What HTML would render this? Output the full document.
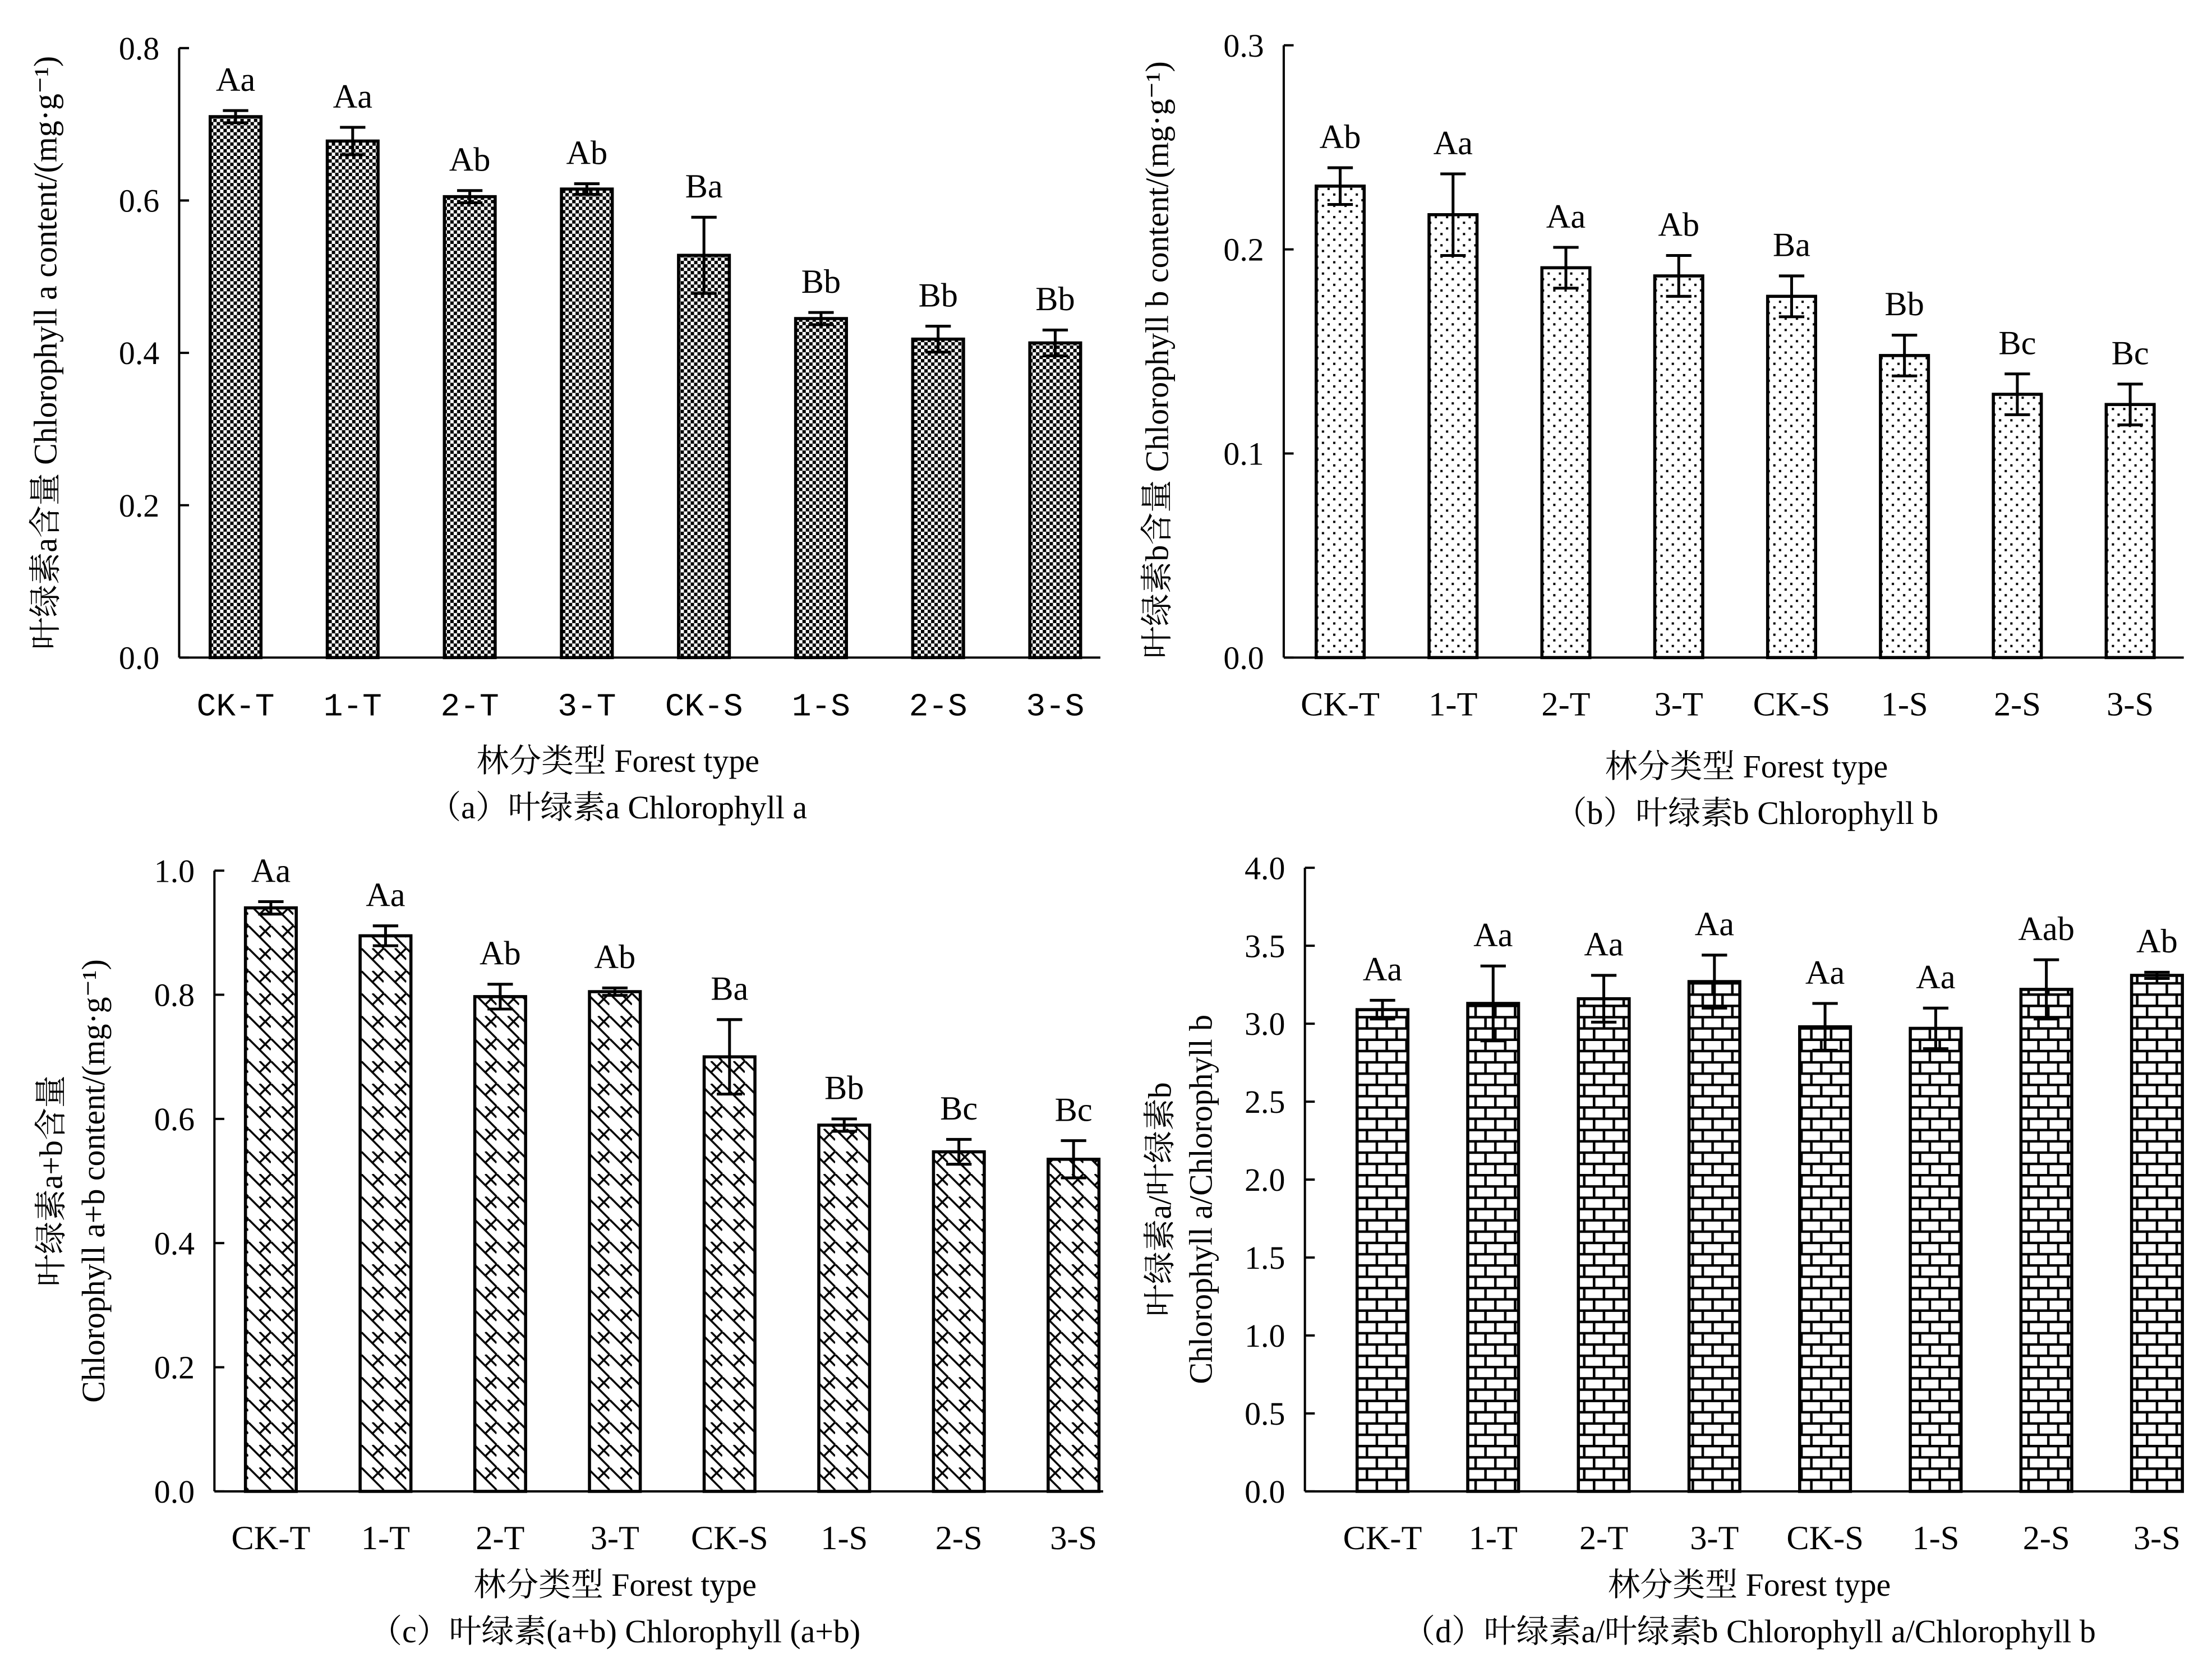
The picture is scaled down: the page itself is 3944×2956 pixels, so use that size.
<!DOCTYPE html>
<html><head><meta charset="utf-8"><style>
html,body{margin:0;padding:0;background:#fff}
svg{display:block}
</style></head><body>
<svg id="fig" width="3944" height="2956" viewBox="0 0 1568 1175" xmlns="http://www.w3.org/2000/svg">
<defs>
<pattern id="pChecker" width="4.8" height="4.8" patternUnits="userSpaceOnUse">
<rect width="4.8" height="4.8" fill="#fff"/><rect width="2.4" height="2.4" fill="#000"/><rect x="2.4" y="2.4" width="2.4" height="2.4" fill="#000"/>
</pattern>
<pattern id="pDots" width="8" height="8" patternUnits="userSpaceOnUse">
<rect width="8" height="8" fill="#fff"/><rect x="1" y="1" width="1.6" height="1.6" fill="#000"/><rect x="5" y="5" width="1.6" height="1.6" fill="#000"/>
</pattern>
<pattern id="pCross" width="16" height="16" patternUnits="userSpaceOnUse">
<rect width="16" height="16" fill="#fff"/>
<path d="M0,0 L16,16 M-8,8 L0,16 M8,0 L16,8 M16,0 L8,8" stroke="#000" stroke-width="1.4"/>
</pattern>
<pattern id="pBrick" width="14" height="16" patternUnits="userSpaceOnUse">
<rect width="14" height="16" fill="#fff"/>
<path d="M0,0.9 H14 M0,8.9 H14 M3,1 V9 M10,9 V17" stroke="#000" stroke-width="1.8"/>
</pattern>
</defs>
<g id="root"></g>
</svg>
<script>
const catsA = ["CK-T","1-T","2-T","3-T","CK-S","1-S","2-S","3-S"];
const valsA = [0.71,0.678,0.605,0.615,0.528,0.445,0.418,0.413];
const errA = [0.008,0.018,0.008,0.007,0.05,0.008,0.017,0.017];
const sigA = ["Aa","Aa","Ab","Ab","Ba","Bb","Bb","Bb"];
const ticksA = ["0.0","0.2","0.4","0.6","0.8"];
const valsB = [0.231,0.217,0.191,0.187,0.177,0.148,0.129,0.124];
const errB = [0.009,0.02,0.01,0.01,0.01,0.01,0.01,0.01];
const sigB = ["Ab","Aa","Aa","Ab","Ba","Bb","Bc","Bc"];
const ticksB = ["0.0","0.1","0.2","0.3"];
const valsC = [0.94,0.895,0.797,0.805,0.70,0.59,0.547,0.535];
const errC = [0.01,0.016,0.02,0.006,0.06,0.01,0.02,0.03];
const sigC = ["Aa","Aa","Ab","Ab","Ba","Bb","Bc","Bc"];
const ticksC = ["0.0","0.2","0.4","0.6","0.8","1.0"];
const valsD = [3.09,3.13,3.16,3.27,2.98,2.97,3.22,3.31];
const errD = [0.06,0.24,0.15,0.17,0.15,0.13,0.19,0.02];
const sigD = ["Aa","Aa","Aa","Aa","Aa","Aa","Aab","Ab"];
const ticksD = ["0.0","0.5","1.0","1.5","2.0","2.5","3.0","3.5","4.0"];

const NS="http://www.w3.org/2000/svg";
const root=document.getElementById('root');
const SERIF='font-family:"Liberation Serif","Noto Serif CJK SC",serif;';
const MONO='font-family:"Liberation Mono","DejaVu Sans Mono",monospace;';
function mk(tag,attrs,parent,txt){const e=document.createElementNS(NS,tag);for(const k in attrs)e.setAttribute(k,attrs[k]);if(txt!==undefined)e.textContent=txt;(parent||root).appendChild(e);return e;}

function panel(cfg){
  const g=mk('g',{});
  
  
  const maxV=parseFloat(cfg.ticks[cfg.ticks.length-1]);
  const y=v=>cfg.y0-(v/maxV)*(cfg.y0-cfg.y1);
  const step=(cfg.lastX-cfg.firstX)/(cfg.cats.length-1);
  const x=i=>cfg.firstX+step*i;
  const ya=mk('line',{x1:cfg.x0,y1:cfg.y1,x2:cfg.x0,y2:cfg.y0,stroke:'#000','stroke-width':1.6},g);
  
  
  const xa=mk('line',{x1:cfg.x0,y1:cfg.y0,x2:cfg.xEnd,y2:cfg.y0,stroke:'#000','stroke-width':1.6},g);
  
  
  cfg.ticks.forEach(t=>{
    const v=parseFloat(t);
    mk('line',{x1:cfg.x0,y1:y(v),x2:cfg.x0+7,y2:y(v),stroke:'#000','stroke-width':1.6},g);
    const tl=mk('text',{x:cfg.x0-14,y:y(v)+8,'text-anchor':'end',style:SERIF+'font-size:23px'},g,t);
    
    
  });
  cfg.cats.forEach((c,i)=>{
    const bw=cfg.bw, v=cfg.vals[i], e=cfg.err[i];
    const b=mk('rect',{x:x(i)-bw/2,y:y(v),width:bw,height:cfg.y0-y(v),fill:'url(#'+cfg.pat+')',stroke:'#000','stroke-width':2.2},g);
    
    
    const eb=mk('path',{d:`M${x(i)},${y(v+e)}V${y(v-e)}M${x(i)-9},${y(v+e)}H${x(i)+9}M${x(i)-9},${y(v-e)}H${x(i)+9}`,stroke:'#000','stroke-width':2,fill:'none'},g);
    
    
    const s=mk('text',{x:x(i),y:y(v+e)-14,'text-anchor':'middle',style:SERIF+'font-size:24px'},g,cfg.sig[i]);
    
    
    const xl=mk('text',{x:x(i),y:cfg.y0+41,'text-anchor':'middle',style:(cfg.mono?MONO+'font-size:23px':SERIF+'font-size:24px')},g,c);
    
    
  });
  const xt=mk('text',{x:cfg.titleX,y:cfg.titleY,'text-anchor':'middle',style:SERIF+'font-size:23px'},g,'林分类型 Forest type');
  
  
  const cap=mk('text',{x:cfg.titleX,y:cfg.titleY+33,'text-anchor':'middle',style:SERIF+'font-size:23px'},g,cfg.caption);
  
  
  cfg.ylab.forEach(l=>{
    const yy=l[2];
    const t=mk('text',{x:l[0],y:yy,'text-anchor':'middle',transform:`rotate(-90 ${l[0]} ${yy})`,style:SERIF+'font-size:23px'},g,l[1]);
    
    
  });
}
panel({name:'panel-a',cats:catsA,vals:valsA,err:errA,sig:sigA,ticks:ticksA,x0:127,xEnd:780,firstX:167,lastX:748,y0:466,y1:34,bw:36,pat:'pChecker',mono:true,titleX:438,titleY:547,caption:'（a）叶绿素a Chlorophyll a',ylab:[[40,'叶绿素a含量 Chlorophyll a content/(mg·g⁻¹)',250]]});
panel({name:'panel-b',cats:catsA,vals:valsB,err:errB,sig:sigB,ticks:ticksB,x0:910,xEnd:1548,firstX:950,lastX:1510,y0:466,y1:32,bw:34,pat:'pDots',mono:false,titleX:1238,titleY:551,caption:'（b）叶绿素b Chlorophyll b',ylab:[[828,'叶绿素b含量 Chlorophyll b content/(mg·g⁻¹)',255]]});
panel({name:'panel-c',cats:catsA,vals:valsC,err:errC,sig:sigC,ticks:ticksC,x0:152,xEnd:782,firstX:192,lastX:761,y0:1057,y1:617,bw:36,pat:'pCross',mono:false,titleX:436,titleY:1131,caption:'（c）叶绿素(a+b) Chlorophyll (a+b)',ylab:[[44,'叶绿素a+b含量',837],[74,'Chlorophyll a+b content/(mg·g⁻¹)',837]]});
panel({name:'panel-d',cats:catsA,vals:valsD,err:errD,sig:sigD,ticks:ticksD,x0:925,xEnd:1548,firstX:980,lastX:1529,y0:1057,y1:615,bw:36,pat:'pBrick',mono:false,titleX:1240,titleY:1131,caption:'（d）叶绿素a/叶绿素b Chlorophyll a/Chlorophyll b',ylab:[[830,'叶绿素a/叶绿素b',850],[859,'Chlorophyll a/Chlorophyll b',850]]});
</script>
</body></html>
